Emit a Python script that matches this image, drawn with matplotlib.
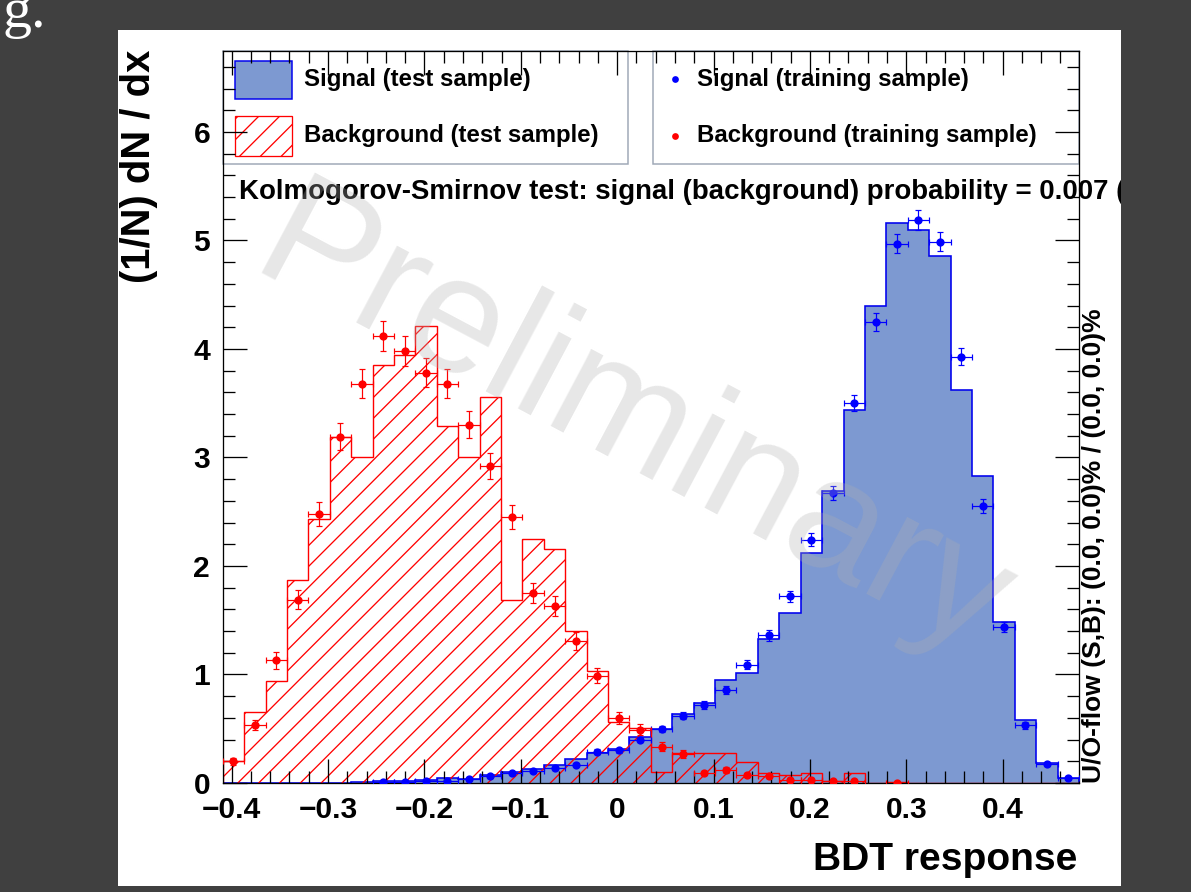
import numpy as np
import matplotlib.pyplot as plt
from matplotlib.patches import Rectangle
from matplotlib.lines import Line2D
from matplotlib.ticker import MultipleLocator, FuncFormatter

# BDT response, 40 bins
x_min, x_max = -0.4093, 0.4792
n_bins = 40

sig_test = [0, 0, 0, 0, 0, 0.003, 0.005, 0.02, 0.015, 0.03,
            0.05, 0.04, 0.075, 0.10, 0.13, 0.17, 0.22, 0.28, 0.31, 0.42,
            0.50, 0.64, 0.74, 0.95, 1.01, 1.33, 1.57, 2.12, 2.69, 3.44,
            4.40, 5.16, 5.10, 4.86, 3.62, 2.83, 1.48, 0.58, 0.18, 0.043]
sig_train = [np.nan, np.nan, np.nan, np.nan, np.nan, np.nan, np.nan, 0.005, 0.005, 0.02,
             0.02, 0.035, 0.06, 0.09, 0.11, 0.135, 0.17, 0.29, 0.30, 0.40,
             0.50, 0.62, 0.72, 0.86, 1.09, 1.36, 1.72, 2.24, 2.67, 3.50,
             4.25, 4.97, 5.19, 4.99, 3.93, 2.55, 1.44, 0.53, 0.175, 0.043]
sig_train_err = [0, 0, 0, 0, 0, 0, 0, 0.003, 0.003, 0.006,
                 0.006, 0.008, 0.01, 0.012, 0.013, 0.015, 0.017, 0.022, 0.022, 0.025,
                 0.028, 0.032, 0.034, 0.037, 0.042, 0.047, 0.052, 0.06, 0.065, 0.075,
                 0.082, 0.089, 0.091, 0.089, 0.079, 0.064, 0.048, 0.029, 0.017, 0.008]

bkg_test = [0.20, 0.65, 0.94, 1.87, 2.43, 3.19, 3.00, 3.85, 3.94, 4.21,
            3.29, 3.00, 3.56, 1.69, 2.25, 2.16, 1.40, 1.03, 0.56, 0.51,
            0.10, 0.28, 0.28, 0.28, 0.19, 0.09, 0.075, 0.09, 0.02, 0.09,
            0, 0.005, 0, 0, 0, 0, 0, 0, 0, 0]
bkg_train = [0.20, 0.535, 1.13, 1.69, 2.48, 3.19, 3.68, 4.12, 3.98, 3.78,
             3.68, 3.30, 2.92, 2.45, 1.75, 1.63, 1.31, 0.99, 0.60, 0.49,
             0.335, 0.27, 0.095, 0.12, 0.075, 0.065, 0.03, 0.03, 0.02, 0.02,
             np.nan, 0.003, np.nan, np.nan, np.nan, np.nan, np.nan, np.nan, np.nan, np.nan]
bkg_train_err = [0.03, 0.05, 0.075, 0.09, 0.11, 0.125, 0.135, 0.14, 0.14, 0.135,
                 0.135, 0.125, 0.12, 0.11, 0.09, 0.09, 0.08, 0.07, 0.055, 0.05,
                 0.04, 0.035, 0.02, 0.025, 0.02, 0.02, 0.012, 0.012, 0.01, 0.01,
                 0, 0.004, 0, 0, 0, 0, 0, 0, 0, 0]

ks_text = 'Kolmogorov-Smirnov test: signal (background) probability = 0.007 ('
flow_text = 'U/O-flow (S,B): (0.0, 0.0)% / (0.0, 0.0)%'

DPI = 125
W, H = 1191, 892


def pt(px):
    return px * 72 / DPI


def fx(px):
    return px / W


def fy(py):
    return 1 - py / H


plt.rcParams['font.family'] = ['Liberation Sans', 'DejaVu Sans']
plt.rcParams['font.weight'] = 'bold'
plt.rcParams['axes.labelweight'] = 'bold'
plt.rcParams['hatch.linewidth'] = pt(1.3)

fig = plt.figure(figsize=(W / DPI, H / DPI), dpi=DPI, facecolor='#404040')

# white canvas
fig.add_artist(Rectangle((fx(118), fy(886)), (1121 - 118) / W, (886 - 30) / H,
                         transform=fig.transFigure, facecolor='white', edgecolor='none', zorder=-2))

ax_l, ax_r, ax_t, ax_b = 222.7, 1079, 51, 783
ax = fig.add_axes([fx(ax_l), fy(ax_b), (ax_r - ax_l) / W, (ax_b - ax_t) / H])
ax.set_facecolor('none')

edges = np.linspace(x_min, x_max, n_bins + 1)
centers = 0.5 * (edges[:-1] + edges[1:])
half = 0.5 * (edges[1] - edges[0])

ax.stairs(sig_test, edges, fill=True, facecolor='#7d99d1', edgecolor='none', zorder=1)
ax.stairs(sig_test, edges, color='#0000ee', linewidth=pt(1.6), zorder=1.05)
ax.stairs(bkg_test, edges, fill=True, facecolor='none', edgecolor='red', linewidth=0,
          hatch='//', zorder=1.1)
ax.stairs(bkg_test, edges, color='red', linewidth=pt(1.4), zorder=1.15)

ax.errorbar(centers, sig_train, xerr=half, yerr=sig_train_err, fmt='o', color='blue',
            ms=pt(6.5), elinewidth=pt(1.2), capsize=pt(3), capthick=pt(1.2), zorder=3)
ax.errorbar(centers, bkg_train, xerr=half, yerr=bkg_train_err, fmt='o', color='red',
            ms=pt(6.5), elinewidth=pt(1.2), capsize=pt(3), capthick=pt(1.2), zorder=3)

ax.set_xlim(x_min, x_max)
ax.set_ylim(0, 6.746)
ax.xaxis.set_major_locator(MultipleLocator(0.1))
ax.xaxis.set_minor_locator(MultipleLocator(0.02))
ax.yaxis.set_major_locator(MultipleLocator(1))
ax.yaxis.set_minor_locator(MultipleLocator(0.2))
ax.xaxis.set_major_formatter(FuncFormatter(
    lambda v, p: '0' if abs(v) < 1e-9 else f'{v:.1f}'.replace('-', '\u2212')))
ax.tick_params(which='both', direction='in', top=True, right=True, width=pt(1.3), color='black')
ax.tick_params(which='major', length=pt(24))
ax.tick_params(which='minor', length=pt(12))
ax.tick_params(axis='x', labelsize=pt(30), pad=pt(13))
ax.tick_params(axis='y', labelsize=pt(30), pad=pt(12.5))
for s in ax.spines.values():
    s.set_linewidth(pt(1.3))

ax.set_xlabel('BDT response', fontsize=pt(39), fontweight='bold', loc='right')
ax.xaxis.set_label_coords((1077 - ax_l) / (ax_r - ax_l), -(842 - ax_b) / (ax_b - ax_t))
ax.set_ylabel('(1/N) dN / dx', fontsize=pt(40), fontweight='bold', loc='top')
ax.yaxis.set_label_coords((158 - ax_l) / (ax_r - ax_l), (ax_b - 50) / (ax_b - ax_t))
ax.text((1094 - ax_l) / (ax_r - ax_l), 0, flow_text, transform=ax.transAxes, rotation=90,
        ha='center', va='bottom', fontsize=pt(26.4))

# legend boxes
box_col = '#9ea8b6'
for x0, x1 in [(ax_l, 628.3), (653.3, ax_r)]:
    fig.add_artist(Rectangle((fx(x0), fy(164.3)), (x1 - x0) / W, (164.3 - ax_t) / H,
                             transform=fig.transFigure, facecolor='white', edgecolor=box_col,
                             linewidth=pt(1.5), zorder=-1))
fig.add_artist(Rectangle((fx(235), fy(99.3)), (291.7 - 235) / W, (99.3 - 60.7) / H,
                         transform=fig.transFigure, facecolor='#7d99d1', edgecolor='#0000ee',
                         linewidth=pt(1.5), zorder=-0.5))
fig.add_artist(Rectangle((fx(235), fy(156)), (291.7 - 235) / W, (156 - 116) / H,
                         transform=fig.transFigure, facecolor='white', edgecolor='red',
                         hatch='//', linewidth=pt(1.3), zorder=-0.5))
fig.add_artist(Line2D([fx(675)], [fy(79.3)], transform=fig.transFigure, marker='o',
                      color='blue', ms=pt(5), linestyle='none'))
fig.add_artist(Line2D([fx(675)], [fy(136)], transform=fig.transFigure, marker='o',
                      color='red', ms=pt(5), linestyle='none'))
fig.text(fx(304), fy(79.5), 'Signal (test sample)', va='center', fontsize=pt(24))
fig.text(fx(304), fy(135.5), 'Background (test sample)', va='center', fontsize=pt(24))
fig.text(fx(696.7), fy(79.5), 'Signal (training sample)', va='center', fontsize=pt(24))
fig.text(fx(696.7), fy(135.5), 'Background (training sample)', va='center', fontsize=pt(24))

fig.text(fx(239.3), fy(191.7), ks_text, va='center', fontsize=pt(27.6), zorder=3)

# watermark
fig.text(fx(632), fy(428), 'Preliminary', rotation=-28, rotation_mode='anchor',
         ha='center', va='center', fontsize=pt(165), fontweight='normal',
         color='#b0b0b0', alpha=0.3, zorder=4)

# dark margin on the right clips the long KS line
fig.add_artist(Rectangle((fx(1121), 0), (W - 1121) / W, 1, transform=fig.transFigure,
                         facecolor='#404040', edgecolor='none', zorder=10))

fig.text(fx(46), fy(27), 'g.', ha='right', va='baseline', color='white',
         family='Liberation Serif', fontweight='normal', fontsize=pt(58), zorder=11)

fig.savefig('out.png', dpi=DPI, facecolor=fig.get_facecolor())
